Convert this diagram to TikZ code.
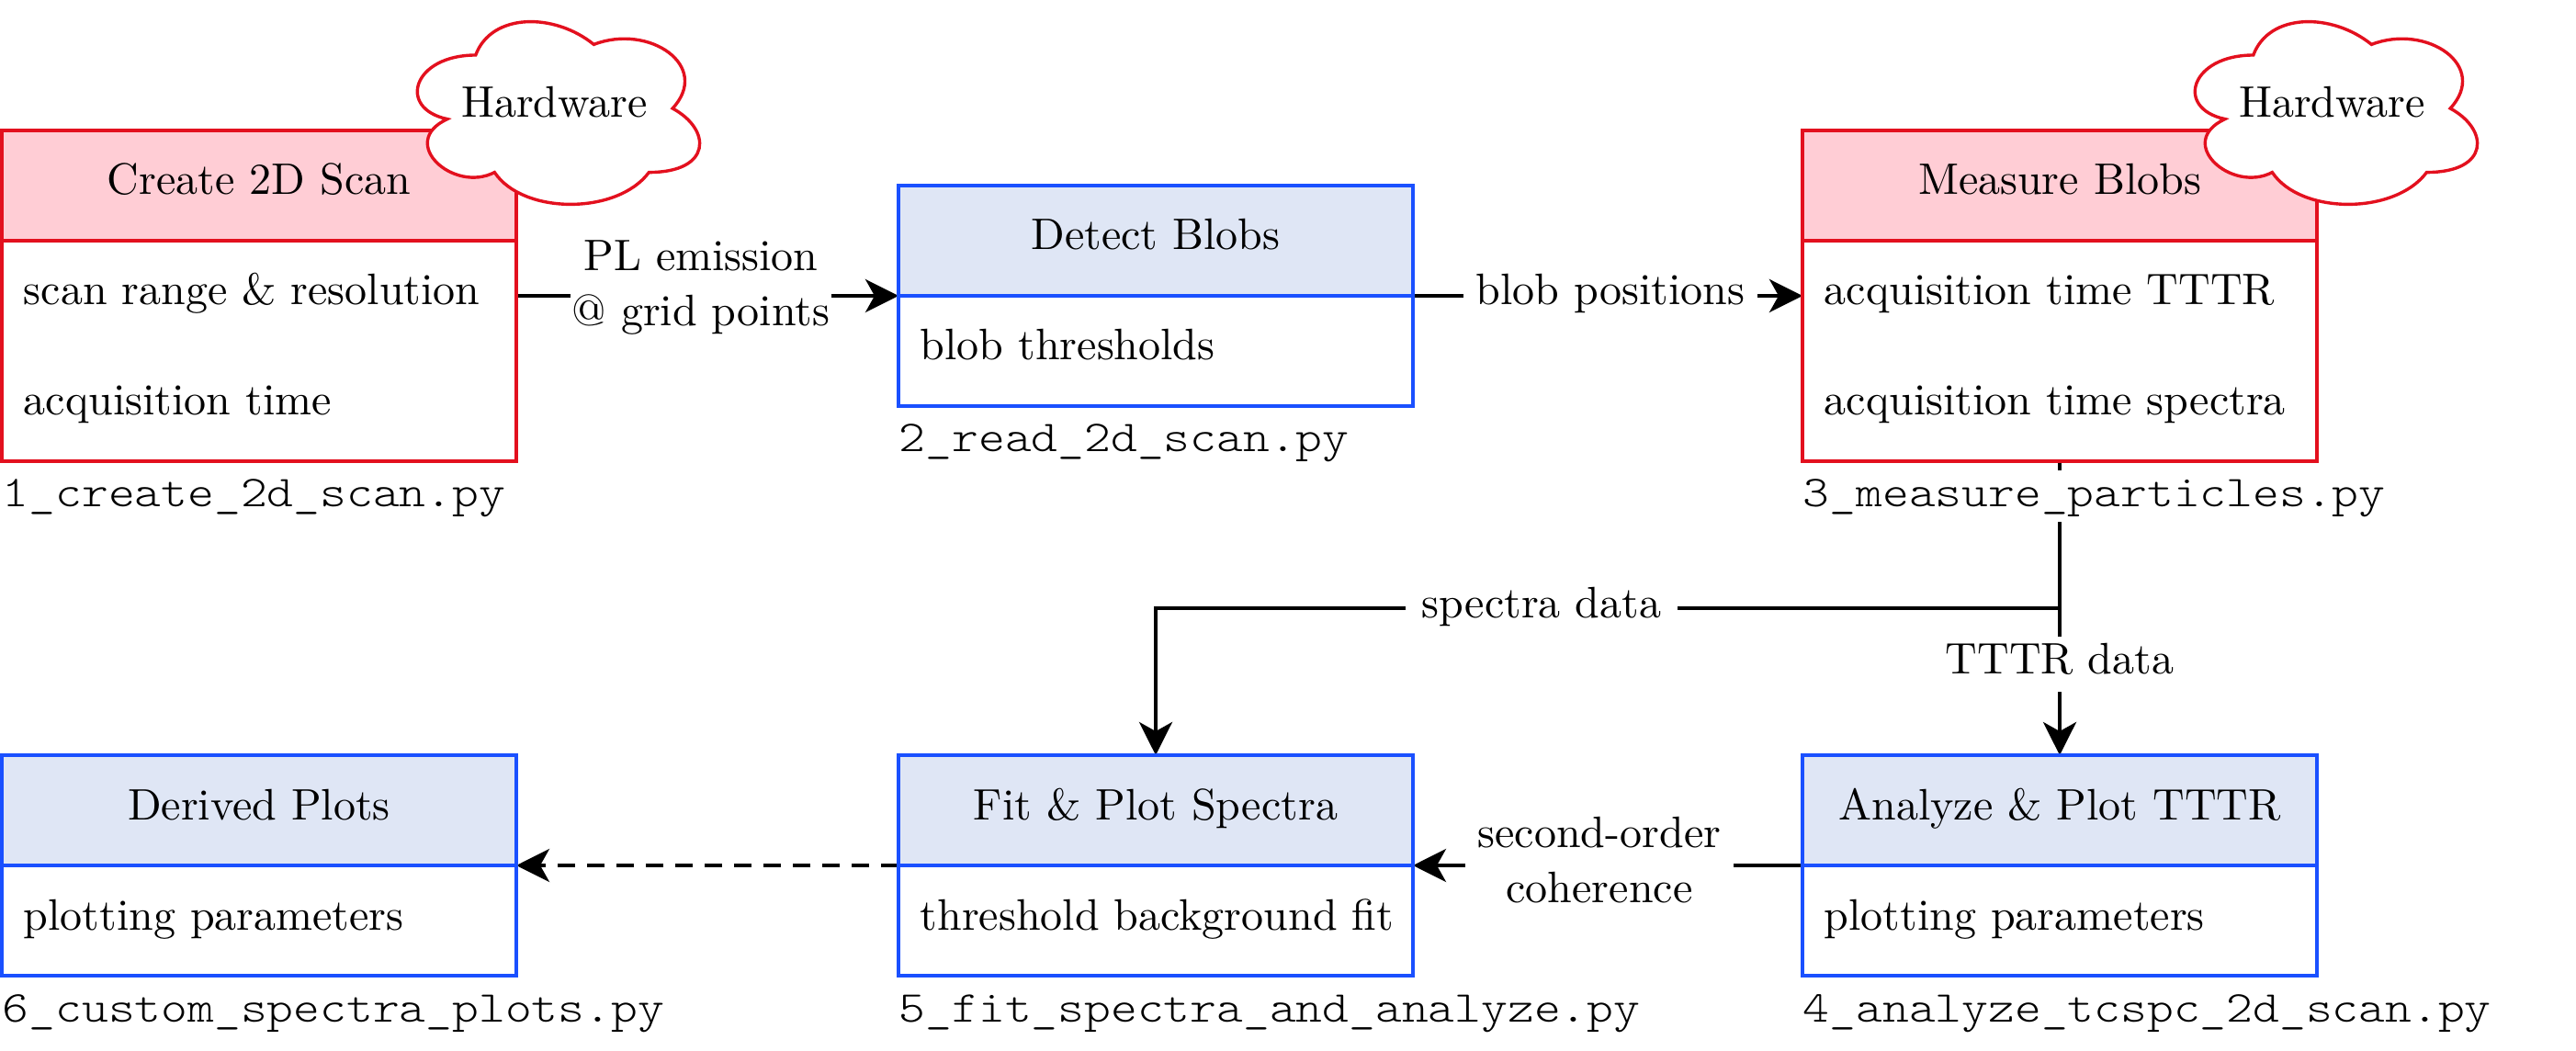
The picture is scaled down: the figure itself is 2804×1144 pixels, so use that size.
\documentclass[tikz,border=0pt]{standalone}
\usepackage{fontspec}
\setmainfont{lmroman10-regular.otf}
\newfontfamily\monof{lmmonolt10-regular.otf}[FakeStretch=1.143]
\usetikzlibrary{arrows.meta}
\definecolor{redC}{HTML}{E3101E}
\definecolor{pinkC}{HTML}{FFCDD5}
\definecolor{blueC}{HTML}{1A50FF}
\definecolor{lblueC}{HTML}{DFE6F5}
\pgfdeclarelayer{bg}
\pgfsetlayers{bg,main}
\tikzset{
  txt/.style={font=\fontsize{12pt}{15pt}\selectfont, inner sep=0pt, text height=9pt, text depth=4pt},
  hdrR/.style={txt, draw=redC, fill=pinkC, line width=0.85pt, outer sep=0pt, minimum width=140pt, minimum height=30pt},
  hdrB/.style={txt, draw=blueC, fill=lblueC, line width=0.85pt, outer sep=0pt, minimum width=140pt, minimum height=30pt},
  bodyR/.style={draw=redC, fill=white, line width=0.85pt, outer sep=0pt, minimum width=140pt, anchor=north, inner sep=0pt},
  bodyB/.style={draw=blueC, fill=white, line width=0.85pt, outer sep=0pt, minimum width=140pt, anchor=north, inner sep=0pt},
  rowtxt/.style={txt, anchor=base west},
  filetxt/.style={font=\monof\fontsize{12pt}{15pt}\selectfont, inner sep=0pt, text height=10pt, text depth=4pt, anchor=base west, fill=white},
  elabel/.style={font=\fontsize{12pt}{15pt}\selectfont, fill=white, inner xsep=3.5pt, inner ysep=1pt, align=center},
  elabel1/.style={elabel, text height=9pt, text depth=4pt},
  conn/.style={line width=1pt, draw=black},
  tip/.style={-{Stealth[length=9pt, width=9pt, inset=2.5pt]}},
  cloudst/.style={draw=redC, fill=white, line width=0.85pt},
  hwcloud/.pic={
    \path[cloudst] (85.75,58) .. controls (17.15,58) and (0,116) .. (54.88,127.6)
      .. controls (0,153.12) and (61.74,208.8) .. (106.33,185.6)
      .. controls (137.2,232) and (240.1,232) .. (274.4,185.6)
      .. controls (343,185.6) and (343,139.2) .. (300.125,116)
      .. controls (343,69.6) and (274.4,23.2) .. (214.375,46.4)
      .. controls (171.5,11.6) and (102.9,11.6) .. (85.75,58) -- cycle;
  }
}
\begin{document}
\begin{tikzpicture}[x=0.25pt, y=-0.25pt]
\useasboundingbox (0,0) rectangle (2804,1144);

% Box 1
\node[hdrR] (b1h) at (282,202) {Create 2D Scan};
\node[bodyR, minimum height=60pt] (b1b) at (b1h.south) {};
\node[rowtxt] (b1r1) at (25,332) {scan range \& resolution};
\node[rowtxt] (b1r2) at (25,452) {acquisition time};
\node[filetxt] (b1f) at (2,552) {1\_create\_2d\_scan.py};
\pic at (432,2) {hwcloud};
\node[txt, anchor=base] (c1) at (603.5,128) {Hardware};

% Box 2
\node[hdrB] (b2h) at (1258,262) {Detect Blobs};
\node[bodyB, minimum height=30pt] (b2b) at (b2h.south) {};
\node[rowtxt] (b2r1) at (1001,392) {blob thresholds};
\node[filetxt] (b2f) at (978,492) {2\_read\_2d\_scan.py};

% Box 3
\node[hdrR] (b3h) at (2242,202) {Measure Blobs};
\node[bodyR, minimum height=60pt] (b3b) at (b3h.south) {};
\node[rowtxt] (b3r1) at (1985,332) {acquisition time TTTR};
\node[rowtxt] (b3r2) at (1985,452) {acquisition time spectra};
\node[filetxt] (b3f) at (1962,552) {3\_measure\_particles.py};
\pic at (2367,2) {hwcloud};
\node[txt, anchor=base] (c2) at (2538.5,128) {Hardware};

% Box 4
\node[hdrB] (b4h) at (2242,882) {Analyze \& Plot TTTR};
\node[bodyB, minimum height=30pt] (b4b) at (b4h.south) {};
\node[rowtxt] (b4r1) at (1985,1012) {plotting parameters};
\node[filetxt] (b4f) at (1962,1112) {4\_analyze\_tcspc\_2d\_scan.py};

% Box 5
\node[hdrB] (b5h) at (1258,882) {Fit \& Plot Spectra};
\node[bodyB, minimum height=30pt] (b5b) at (b5h.south) {};
\node[rowtxt] (b5r1) at (1001,1012) {threshold background fit};
\node[filetxt] (b5f) at (978,1112) {5\_fit\_spectra\_and\_analyze.py};

% Box 6
\node[hdrB] (b6h) at (282,882) {Derived Plots};
\node[bodyB, minimum height=30pt] (b6b) at (b6h.south) {};
\node[rowtxt] (b6r1) at (25,1012) {plotting parameters};
\node[filetxt] (b6f) at (2,1112) {6\_custom\_spectra\_plots.py};

% Edge labels
\node[elabel, inner xsep=0.5pt] (l1) at (763,313) {PL emission\\@ grid points};
\node[elabel1] (l2) at (1753,322) {blob positions};
\node[elabel1, inner xsep=4.4pt] (l3) at (1678,662) {spectra data};
\node[elabel1] (l4) at (2242,723) {TTTR data};
\node[elabel] (l5) at (1741,936) {second-order\\coherence};

\begin{pgfonlayer}{bg}
\draw[conn, tip] (b1b.east |- b2h.south west) -- (b2h.south west);
\draw[conn, tip] (b2h.south east) -- (b3b.west |- b2h.south east);
\draw[conn, tip] (b3b.south) -- (b4h.north);
\draw[conn, tip] (b3b.south) -- (b3b.south |- l3.center) -| (b5h.north);
\draw[conn, tip] (b4h.south west) -- (b5h.south east);
\draw[conn, tip, dash pattern=on 4.8pt off 3.2pt] (b5h.south west) -- (b6h.south east);
\end{pgfonlayer}
\end{tikzpicture}
\end{document}
